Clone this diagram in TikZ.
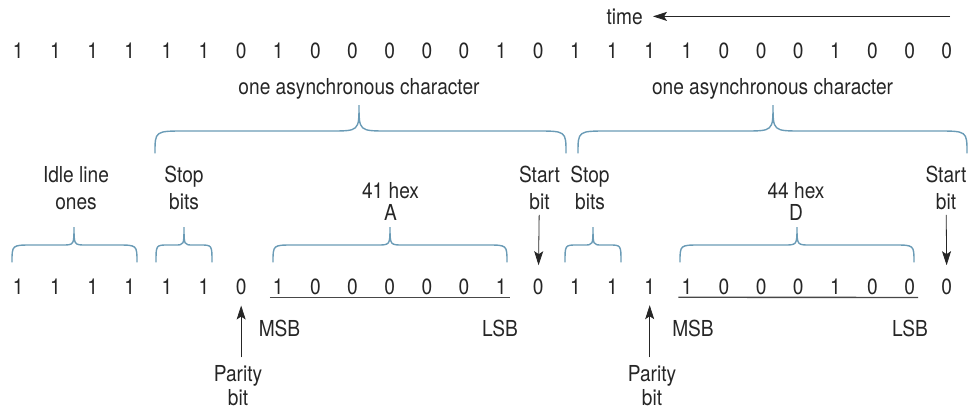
\documentclass[tikz,border=0pt]{standalone}
\usepackage{fontspec}
\setmainfont[FakeStretch=0.87]{TeX Gyre Heros}
\usetikzlibrary{arrows.meta}
\definecolor{bracewire}{HTML}{6A9BB6}
\definecolor{inkgray}{HTML}{262626}

% curly brace: x left, x tip, x right, y ends, y arm, y tip, end radius, tip radius
\newcommand{\curly}[8]{%
  \draw[brace] (#1,#4) .. controls (#1,#5) .. ({#1+#7},#5) -- ({#2-#8},#5)
    .. controls (#2,#5) .. (#2,#6) .. controls (#2,#5) .. ({#2+#8},#5)
    -- ({#3-#7},#5) .. controls (#3,#5) .. (#3,#4);}

\begin{document}
\begin{tikzpicture}[
    x=1pt, y=-1pt,
    bit/.style={anchor=base, font=\fontsize{22}{26}\selectfont, text=inkgray, inner sep=3pt},
    lbl/.style={anchor=base, align=center, font=\fontsize{22}{#1}\selectfont, text=inkgray, inner sep=3pt},
    lbl/.default=26.7,
    brace/.style={draw=bracewire, line width=1.4pt, line cap=round},
    arr/.style={-{Stealth[length=14pt,width=9pt,inset=3pt]}, line width=0.8pt, draw=inkgray},
    uline/.style={line width=1.4pt, draw=inkgray!85}
]
\useasboundingbox (0,0) rectangle (972,410);

% bit rows
\foreach \b [count=\i from 0] in {1,1,1,1,1,1,0,1,0,0,0,0,0,1,0,1,1,1,1,0,0,0,1,0,0,0} {
  \node[bit] (t\i) at ({18.3+37.14*\i},58.3) {\b};
  \node[bit] (b\i) at ({18.3+37.14*\i},294) {\b};
}

% time arrow
\node[lbl] (time) at (624.7,24) {time};
\coordinate (tstart) at (950,0);
\draw[arr, shorten >=7pt] (tstart |- time) -- (time);

% characters
\node[lbl] (char1) at (359,94.3) {one asynchronous character};
\node[lbl] (char2) at (772.5,94.3) {one asynchronous character};
\curly{155}{359}{566}{153}{131}{105}{30}{29}
\curly{578}{773}{967}{153}{131}{105}{30}{29}

% fields (base = last line)
\node[lbl] (idle) at (76,209.3) {Idle line\\ones};
\node[lbl] (stop1) at (184,209.3) {Stop\\bits};
\node[lbl=22.4] (hexA) at (390.5,220.7) {41 hex\\A};
\node[lbl] (start1) at (539.5,209.3) {Start\\bit};
\node[lbl] (stop2) at (590,209.3) {Stop\\bits};
\node[lbl=22.4] (hexD) at (796,220.7) {44 hex\\D};
\node[lbl] (start2) at (946,209.3) {Start\\bit};

\curly{12}{74}{137}{262}{245}{227}{20}{12}
\curly{156}{184}{212}{262}{245}{227}{12}{9}
\curly{273}{390}{507}{262}{245}{227}{20}{13}
\curly{565}{593}{621}{262}{245}{227}{12}{9}
\curly{680}{797}{914}{262}{245}{227}{20}{13}

\draw[arr, shorten <=2pt, shorten >=10pt] (start1) -- (b14);
\draw[arr, shorten <=2pt, shorten >=10pt] (start2) -- (b25);

% data underlines
\draw[uline] (b7.south west) -- (b13.south east);
\draw[uline] (b18.south west) -- (b24.south east);

\node[lbl] (msb1) at (279.5,336.7) {MSB};
\node[lbl] (lsb1) at (500,336.7) {LSB};
\node[lbl] (msb2) at (693,336.7) {MSB};
\node[lbl] (lsb2) at (910,336.7) {LSB};

% parity
\node[lbl=23.5] (par1) at (238,405) {Parity\\bit};
\node[lbl=23.5] (par2) at (652,405) {Parity\\bit};
\draw[arr, shorten <=5pt, shorten >=8pt] (par1.north -| b6) -- (b6);
\draw[arr, shorten <=5pt, shorten >=8pt] (par2.north -| b17) -- (b17);

\end{tikzpicture}
\end{document}
